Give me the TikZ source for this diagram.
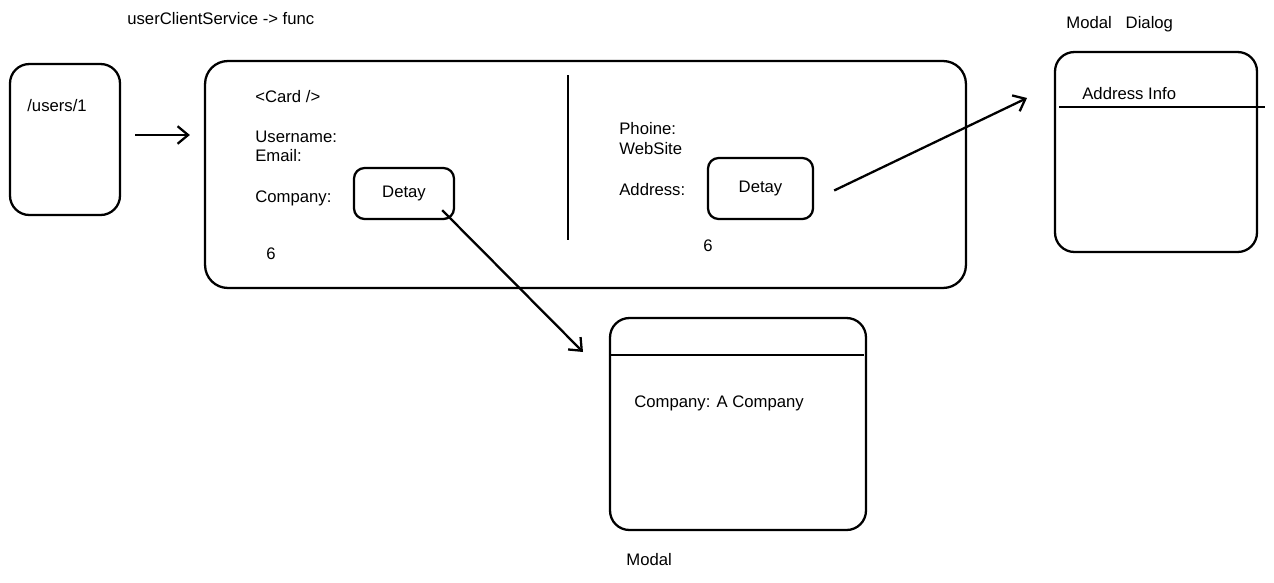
\documentclass[tikz,border=0pt]{standalone}
\usepackage{fontspec}
\setmainfont{Liberation Sans}
\usepackage{tikz}
\usetikzlibrary{positioning, arrows.meta, calc}

\tikzset{
    box/.style={draw, line width=1.3pt, rounded corners=11pt, inner sep=0pt},
    smallbox/.style={draw, line width=1.3pt, rounded corners=6pt, inner sep=0pt},
    txt/.style={anchor=west, inner sep=0pt, font=\fontsize{9.5}{11}\selectfont},
    arr/.style={-{Straight Barb[length=6pt, width=10pt]}, line width=1.3pt}
}

\begin{document}
\begin{tikzpicture}[x=0.02cm, y=-0.02cm]
        \useasboundingbox (0,0) rectangle (1274,582);

        % Title
        \node[txt] (title) at (127,19) {userClientService -> func};

        % Route box
        \node[box, minimum width=2.2cm, minimum height=3.02cm] (users) at (65,139.5) {};
        \node[txt] (userstxt) at (27,106) {/users/1};

        % Card
        \node[box, rounded corners=13pt, minimum width=15.22cm, minimum height=4.54cm] (card) at (585.5,174.5) {};
        \draw[line width=1.3pt] (568,75) -- (568,240);

        \node[txt] (cardname) at (255,97) {<Card />};
        \node[txt] (username) at (255,137) {Username:};
        \node[txt] (email) at (255,156) {Email:};
        \node[txt] (company) at (255,198) {Company:};
        \node[txt] (sixa) at (266,254) {6};
        \node[smallbox, minimum width=2cm, minimum height=1.02cm, font=\fontsize{9.5}{11}\selectfont] (detaya) at (404,193.5) {Detay};

        \node[txt] (phone) at (619,129) {Phoine:};
        \node[txt] (website) at (619,149) {WebSite};
        \node[txt] (address) at (619,190) {Address:};
        \node[txt] (sixb) at (703,246) {6};
        \node[smallbox, minimum width=2.1cm, minimum height=1.22cm, font=\fontsize{9.5}{11}\selectfont] (detayb) at (760.5,188.5) {Detay};

        % Address dialog
        \node[txt] (dlgtitle) at (1066,24) {Modal~~~Dialog};
        \node[box, minimum width=4.04cm, minimum height=4cm] (addrdlg) at (1156,152) {};
        \node[txt] (addrinfo) at (1082,94) {Address Info};
        \draw[line width=1.3pt] (1059,107) -- (1265,107);

        % Company modal
        \node[box, minimum width=5.12cm, minimum height=4.24cm] (modal) at (738,424) {};
        \draw[line width=1.3pt] (611,355) -- (864,355);
        \node[txt] (compinfo) at (634,403) {Company: A Company};
        \node[txt] (modaltxt) at (626,560) {Modal};

        % Arrows
        \coordinate (tipa) at (583,352);
        \coordinate (tipb) at (1027,98);
        \draw[arr, shorten <=8pt, shorten >=8pt] (users.east |- 0,135) -- (card.west |- 0,135);
        \draw[arr] ($(detaya.south east)+(-13,-10)$) -- (tipa);
        \draw[arr] ($(detayb.east)+(20,2)$) -- (tipb);

    \end{tikzpicture}
\end{document}
